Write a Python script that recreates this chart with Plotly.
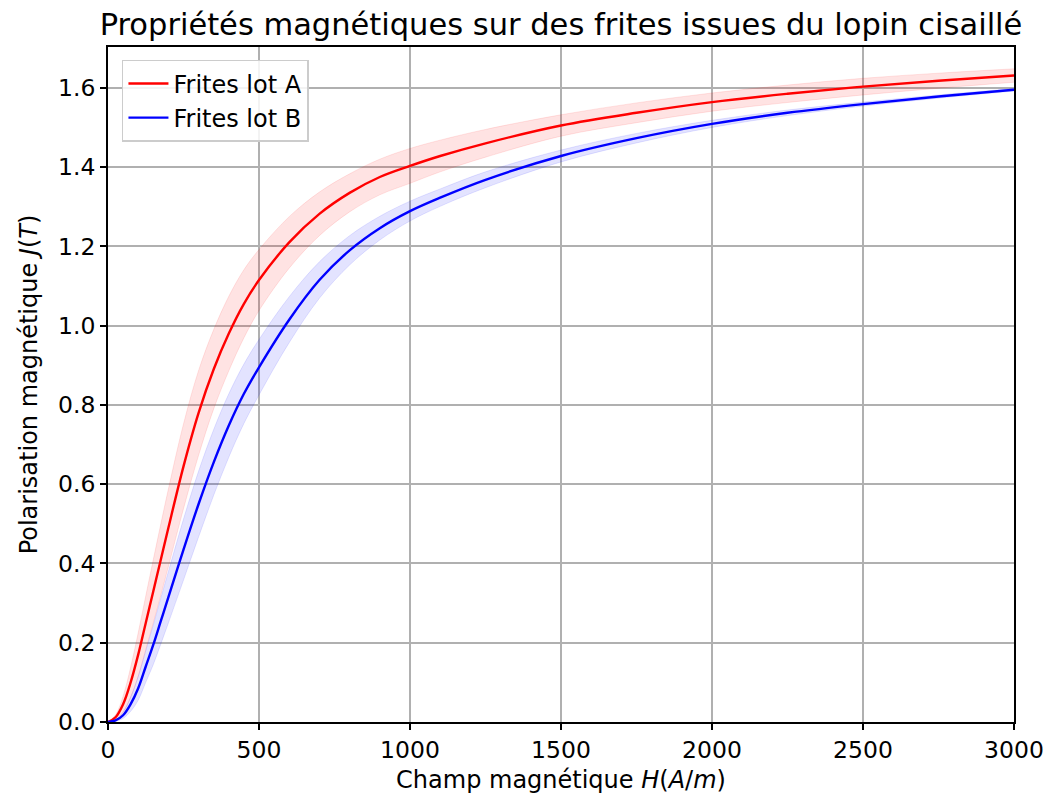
import plotly.graph_objects as go

# Magnetic field H (A/m) at which the curves are sampled
champ_h = [0, 25, 50, 75, 100, 125, 150, 175, 200, 250, 300, 350, 400, 450, 500,
           600, 700, 800, 900, 1000, 1100, 1250, 1500, 1750, 2000, 2250, 2500, 2750, 3000]

# Mean polarisation J (T), lot A
j_lot_a = [0.0, 0.012, 0.045, 0.10, 0.17, 0.25, 0.33, 0.41, 0.49, 0.645, 0.78, 0.89, 0.98, 1.055, 1.115,
           1.21, 1.282, 1.335, 1.375, 1.403, 1.428, 1.46, 1.505, 1.537, 1.564, 1.585, 1.603, 1.618, 1.631]
# Dispersion (half-width of the shaded band), lot A
ecart_lot_a = [0.0, 0.006, 0.02, 0.038, 0.055, 0.068, 0.08, 0.09, 0.098, 0.107, 0.107, 0.1, 0.094, 0.086, 0.077,
               0.065, 0.055, 0.048, 0.045, 0.044, 0.04, 0.035, 0.027, 0.025, 0.023, 0.022, 0.021, 0.019, 0.017]

# Mean polarisation J (T), lot B
j_lot_b = [0.0, 0.004, 0.017, 0.045, 0.085, 0.14, 0.195, 0.255, 0.315, 0.435, 0.55, 0.655, 0.748, 0.828, 0.895,
           1.015, 1.115, 1.19, 1.246, 1.289, 1.323, 1.368, 1.428, 1.473, 1.509, 1.537, 1.559, 1.578, 1.595]
# Dispersion (half-width of the shaded band), lot B
ecart_lot_b = [0.0, 0.002, 0.008, 0.018, 0.03, 0.04, 0.05, 0.058, 0.065, 0.077, 0.083, 0.083, 0.08, 0.075, 0.07,
               0.058, 0.046, 0.037, 0.03, 0.025, 0.022, 0.02, 0.015, 0.012, 0.009, 0.007, 0.005, 0.004, 0.003]

x_ticks = [0, 500, 1000, 1500, 2000, 2500, 3000]
y_ticks = [0.0, 0.2, 0.4, 0.6, 0.8, 1.0, 1.2, 1.4, 1.6]

FONT = "DejaVu Sans"
TICK_SIZE = 23.5
LABEL_SIZE = 24

series = [
    ("Frites lot A", j_lot_a, ecart_lot_a, "#ff0000", "rgba(255,0,0,0.11)", "rgba(255,0,0,0.10)"),
    ("Frites lot B", j_lot_b, ecart_lot_b, "#0000ff", "rgba(0,0,255,0.11)", "rgba(0,0,255,0.10)"),
]

fig = go.Figure()

# Shaded dispersion bands
for name, j, e, col, fillcol, edgecol in series:
    lower = [v - d for v, d in zip(j, e)]
    upper = [v + d for v, d in zip(j, e)]
    fig.add_trace(go.Scatter(x=champ_h, y=lower, mode="lines",
                             line=dict(color=edgecol, width=1, shape="spline"),
                             showlegend=False, hoverinfo="skip"))
    fig.add_trace(go.Scatter(x=champ_h, y=upper, mode="lines", fill="tonexty",
                             fillcolor=fillcol,
                             line=dict(color=edgecol, width=1, shape="spline"),
                             showlegend=False, hoverinfo="skip"))

# Mean curves
for name, j, e, col, fillcol, edgecol in series:
    fig.add_trace(go.Scatter(x=champ_h, y=j, mode="lines", name=name,
                             line=dict(color=col, width=2.4, shape="spline")))

axis_common = dict(
    showline=True, linecolor="black", linewidth=1.8, mirror=True,
    ticks="outside", ticklen=6, tickwidth=1.6, tickcolor="black",
    showgrid=True, gridcolor="#b0b0b0", gridwidth=1.5,
    zeroline=False,
    tickfont=dict(family=FONT, size=TICK_SIZE, color="black"),
)

fig.update_layout(
    width=1056, height=807,
    margin=dict(l=108, r=39, t=47, b=85),
    paper_bgcolor="white", plot_bgcolor="white",
    font=dict(family=FONT, color="black"),
    title=dict(text="Propriétés magnétiques sur des frites issues du lopin cisaillé",
               x=0.5, xref="paper", xanchor="center",
               y=1 - 24 / 807, yref="container", yanchor="middle",
               font=dict(family=FONT, size=30.5, color="black")),
    xaxis=dict(range=[0, 3000], tickvals=x_ticks,
               title=dict(text="Champ magnétique <i>H</i>(<i>A</i>/<i>m</i>)",
                          font=dict(family=FONT, size=LABEL_SIZE, color="black"), standoff=8),
               **axis_common),
    yaxis=dict(range=[0, 1.703], tickvals=y_ticks, tickformat=".1f",
               title=dict(text="Polarisation magnétique <i>J</i>(<i>T</i>)",
                          font=dict(family=FONT, size=LABEL_SIZE, color="black"), standoff=14),
               **axis_common),
    legend=dict(x=0.0154, y=0.981, xanchor="left", yanchor="top",
                traceorder="normal",
                bgcolor="rgba(255,255,255,0.85)", bordercolor="#cccccc", borderwidth=1.5,
                font=dict(family=FONT, size=LABEL_SIZE, color="black"),
                itemwidth=40),
    showlegend=True,
)

fig.write_html("out.html")
